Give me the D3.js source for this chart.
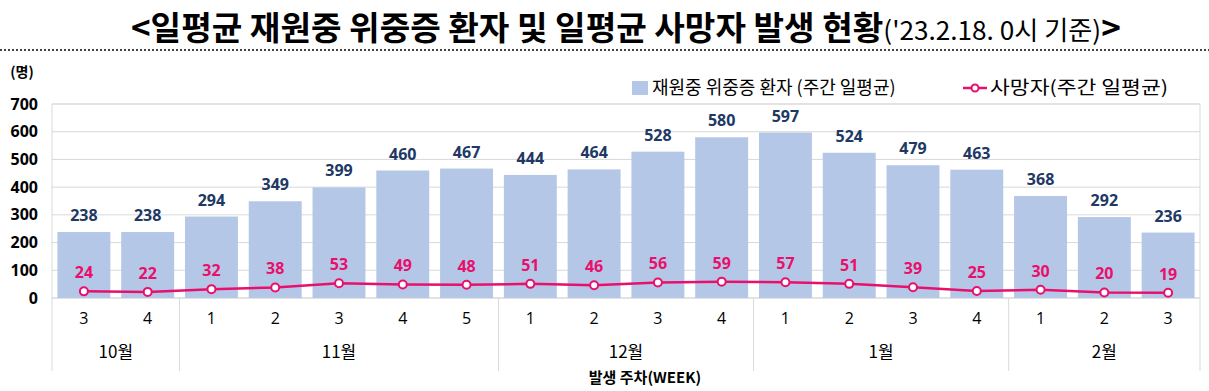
<!DOCTYPE html>
<html>
<head>
<meta charset="utf-8">
<script src="https://cdn.jsdelivr.net/npm/d3@7"></script>
<style>
  body { margin: 0; background: #fff; }
  svg { display: block; font-family: "Noto Sans CJK KR", "Noto Sans", sans-serif; }
</style>
</head>
<body>
<div id="chart"></div>
<script>
// data
var weeks = ["3", "4", "1", "2", "3", "4", "5", "1", "2", "3", "4", "1", "2", "3", "4", "1", "2", "3"];
var months = ["10월", "11월", "12월", "1월", "2월"];
var monthWeeks = [2, 5, 4, 4, 3];
var patients = [238, 238, 294, 349, 399, 460, 467, 444, 464, 528, 580, 597, 524, 479, 463, 368, 292, 236];
var deaths = [24, 22, 32, 38, 53, 49, 48, 51, 46, 56, 59, 57, 51, 39, 25, 30, 20, 19];
var yTicks = [0, 100, 200, 300, 400, 500, 600, 700];

var W = 1209, H = 391;
var margin = {top: 104, right: 9, bottom: 93, left: 52},
    width = W - margin.left - margin.right,
    height = H - margin.top - margin.bottom;

var svg = d3.select("#chart").append("svg")
    .attr("width", W)
    .attr("height", H);

// title, squeezed to the width of the original
var titleG = svg.append("g");
var title = titleG.append("text")
    .attr("x", 0)
    .attr("y", 0)
    .style("font-size", "33px")
    .style("fill", "#000");
title.append("tspan").style("font-weight", "bold").text("<일평균 재원중 위중증 환자 및 일평균 사망자 발생 현황");
title.append("tspan").style("font-weight", "normal").style("font-size", "26px").text("('23.2.18. 0시 기준)");
title.append("tspan").style("font-weight", "bold").text(">");
var tw = title.node().getComputedTextLength();
var sx = 990 / tw;
titleG.attr("transform", "translate(131,40) scale(" + sx + ",1)");

// dotted separator
svg.append("line")
    .attr("x1", 0).attr("x2", W)
    .attr("y1", 50).attr("y2", 50)
    .attr("stroke", "#444")
    .attr("stroke-width", 2)
    .attr("stroke-dasharray", "2,2");

svg.append("text")
    .attr("x", 22).attr("y", 77)
    .attr("text-anchor", "middle")
    .style("font-size", "14px")
    .style("font-weight", "bold")
    .text("(명)");

var g = svg.append("g")
    .attr("transform", "translate(" + margin.left + "," + margin.top + ")");

var idx = d3.range(weeks.length);
var x = d3.scaleBand().domain(idx).range([0, width]).paddingInner(0.17).paddingOuter(0.085);
var y = d3.scaleLinear().domain([0, 700]).range([height, 0]);

// gridlines
g.append("g")
    .selectAll("line")
    .data(yTicks)
    .enter().append("line")
    .attr("x1", 0).attr("x2", width)
    .attr("y1", d => y(d)).attr("y2", d => y(d))
    .attr("stroke", "#d9d9d9");

// frame
g.append("rect")
    .attr("width", width).attr("height", height)
    .attr("fill", "none")
    .attr("stroke", "#d9d9d9");

// y axis
var yAxis = g.append("g")
    .call(d3.axisLeft(y).tickValues(yTicks).tickSize(0).tickPadding(14));
yAxis.select(".domain").remove();
yAxis.selectAll("text")
    .style("font-size", "16px")
    .style("font-weight", "bold")
    .style("fill", "#000")
    .style("font-family", "'Open Sans', 'Noto Sans', sans-serif");

// bars
g.selectAll(".bar")
    .data(patients)
    .enter().append("rect")
    .attr("class", "bar")
    .attr("x", (d, i) => x(i))
    .attr("width", x.bandwidth())
    .attr("y", d => y(d))
    .attr("height", d => height - y(d))
    .attr("fill", "#b4c7e7");

g.selectAll(".barlabel")
    .data(patients)
    .enter().append("text")
    .attr("class", "barlabel")
    .attr("x", (d, i) => x(i) + x.bandwidth() / 2)
    .attr("y", d => y(d) - 11)
    .attr("text-anchor", "middle")
    .style("font-size", "16px")
    .style("font-weight", "bold")
    .style("fill", "#203864")
    .style("font-family", "'Open Sans', 'Noto Sans', sans-serif")
    .text(d => d);

// deaths line
var cx = i => x(i) + x.bandwidth() / 2;
var line = d3.line().x((d, i) => cx(i)).y(d => y(d));
g.append("path")
    .datum(deaths)
    .attr("d", line)
    .attr("fill", "none")
    .attr("stroke", "#e8106c")
    .attr("stroke-width", 2.5);

g.selectAll(".dot")
    .data(deaths)
    .enter().append("circle")
    .attr("class", "dot")
    .attr("cx", (d, i) => cx(i))
    .attr("cy", d => y(d))
    .attr("r", 4)
    .attr("fill", "#fff")
    .attr("stroke", "#e8106c")
    .attr("stroke-width", 2);

g.selectAll(".deathlabel")
    .data(deaths)
    .enter().append("text")
    .attr("class", "deathlabel")
    .attr("x", (d, i) => cx(i))
    .attr("y", d => y(d) - 13)
    .attr("text-anchor", "middle")
    .style("font-size", "16px")
    .style("font-weight", "bold")
    .style("fill", "#e8106c")
    .style("font-family", "'Open Sans', 'Noto Sans', sans-serif")
    .text(d => d);

// x axis: weeks
var step = x.step();
g.selectAll(".week")
    .data(weeks)
    .enter().append("text")
    .attr("class", "week")
    .attr("x", (d, i) => cx(i))
    .attr("y", height + 26)
    .attr("text-anchor", "middle")
    .style("font-size", "16px")
    .style("fill", "#000")
    .style("font-family", "'Open Sans', 'Noto Sans', sans-serif")
    .text(d => d);

// month groups
var starts = [];
var s = 0;
monthWeeks.forEach(n => { starts.push(s); s += n; });
var boundary = i => i === 0 ? 0 : (i >= weeks.length ? width : x(i) - (step - x.bandwidth()) / 2);

g.selectAll(".msep")
    .data(starts.concat([weeks.length]))
    .enter().append("line")
    .attr("class", "msep")
    .attr("x1", d => boundary(d)).attr("x2", d => boundary(d))
    .attr("y1", height).attr("y2", height + 73)
    .attr("stroke", "#d9d9d9");

g.selectAll(".month")
    .data(months)
    .enter().append("text")
    .attr("class", "month")
    .attr("x", (d, i) => (boundary(starts[i]) + boundary(starts[i] + monthWeeks[i])) / 2)
    .attr("y", height + 60)
    .attr("text-anchor", "middle")
    .style("font-size", "17px")
    .style("fill", "#000")
    .text(d => d);

svg.append("text")
    .attr("x", 645).attr("y", 383)
    .attr("text-anchor", "middle")
    .style("font-size", "15px")
    .style("font-weight", "bold")
    .text("발생 주차(WEEK)");

// legend
var lg = svg.append("g").attr("transform", "translate(632,88)");
lg.append("rect")
    .attr("x", 0).attr("y", -7)
    .attr("width", 16).attr("height", 14)
    .attr("fill", "#b4c7e7");
lg.append("text")
    .attr("x", 20).attr("y", 6)
    .style("font-size", "18px")
    .text("재원중 위중증 환자 (주간 일평균)");
lg.append("line")
    .attr("x1", 331).attr("x2", 355)
    .attr("y1", 0).attr("y2", 0)
    .attr("stroke", "#e8106c")
    .attr("stroke-width", 2.5);
lg.append("circle")
    .attr("cx", 343).attr("cy", 0).attr("r", 3.5)
    .attr("fill", "#fff")
    .attr("stroke", "#e8106c")
    .attr("stroke-width", 2);
lg.append("text")
    .attr("x", 358).attr("y", 6)
    .attr("textLength", 178)
    .attr("lengthAdjust", "spacingAndGlyphs")
    .style("font-size", "18px")
    .text("사망자(주간 일평균)");
</script>
</body>
</html>
